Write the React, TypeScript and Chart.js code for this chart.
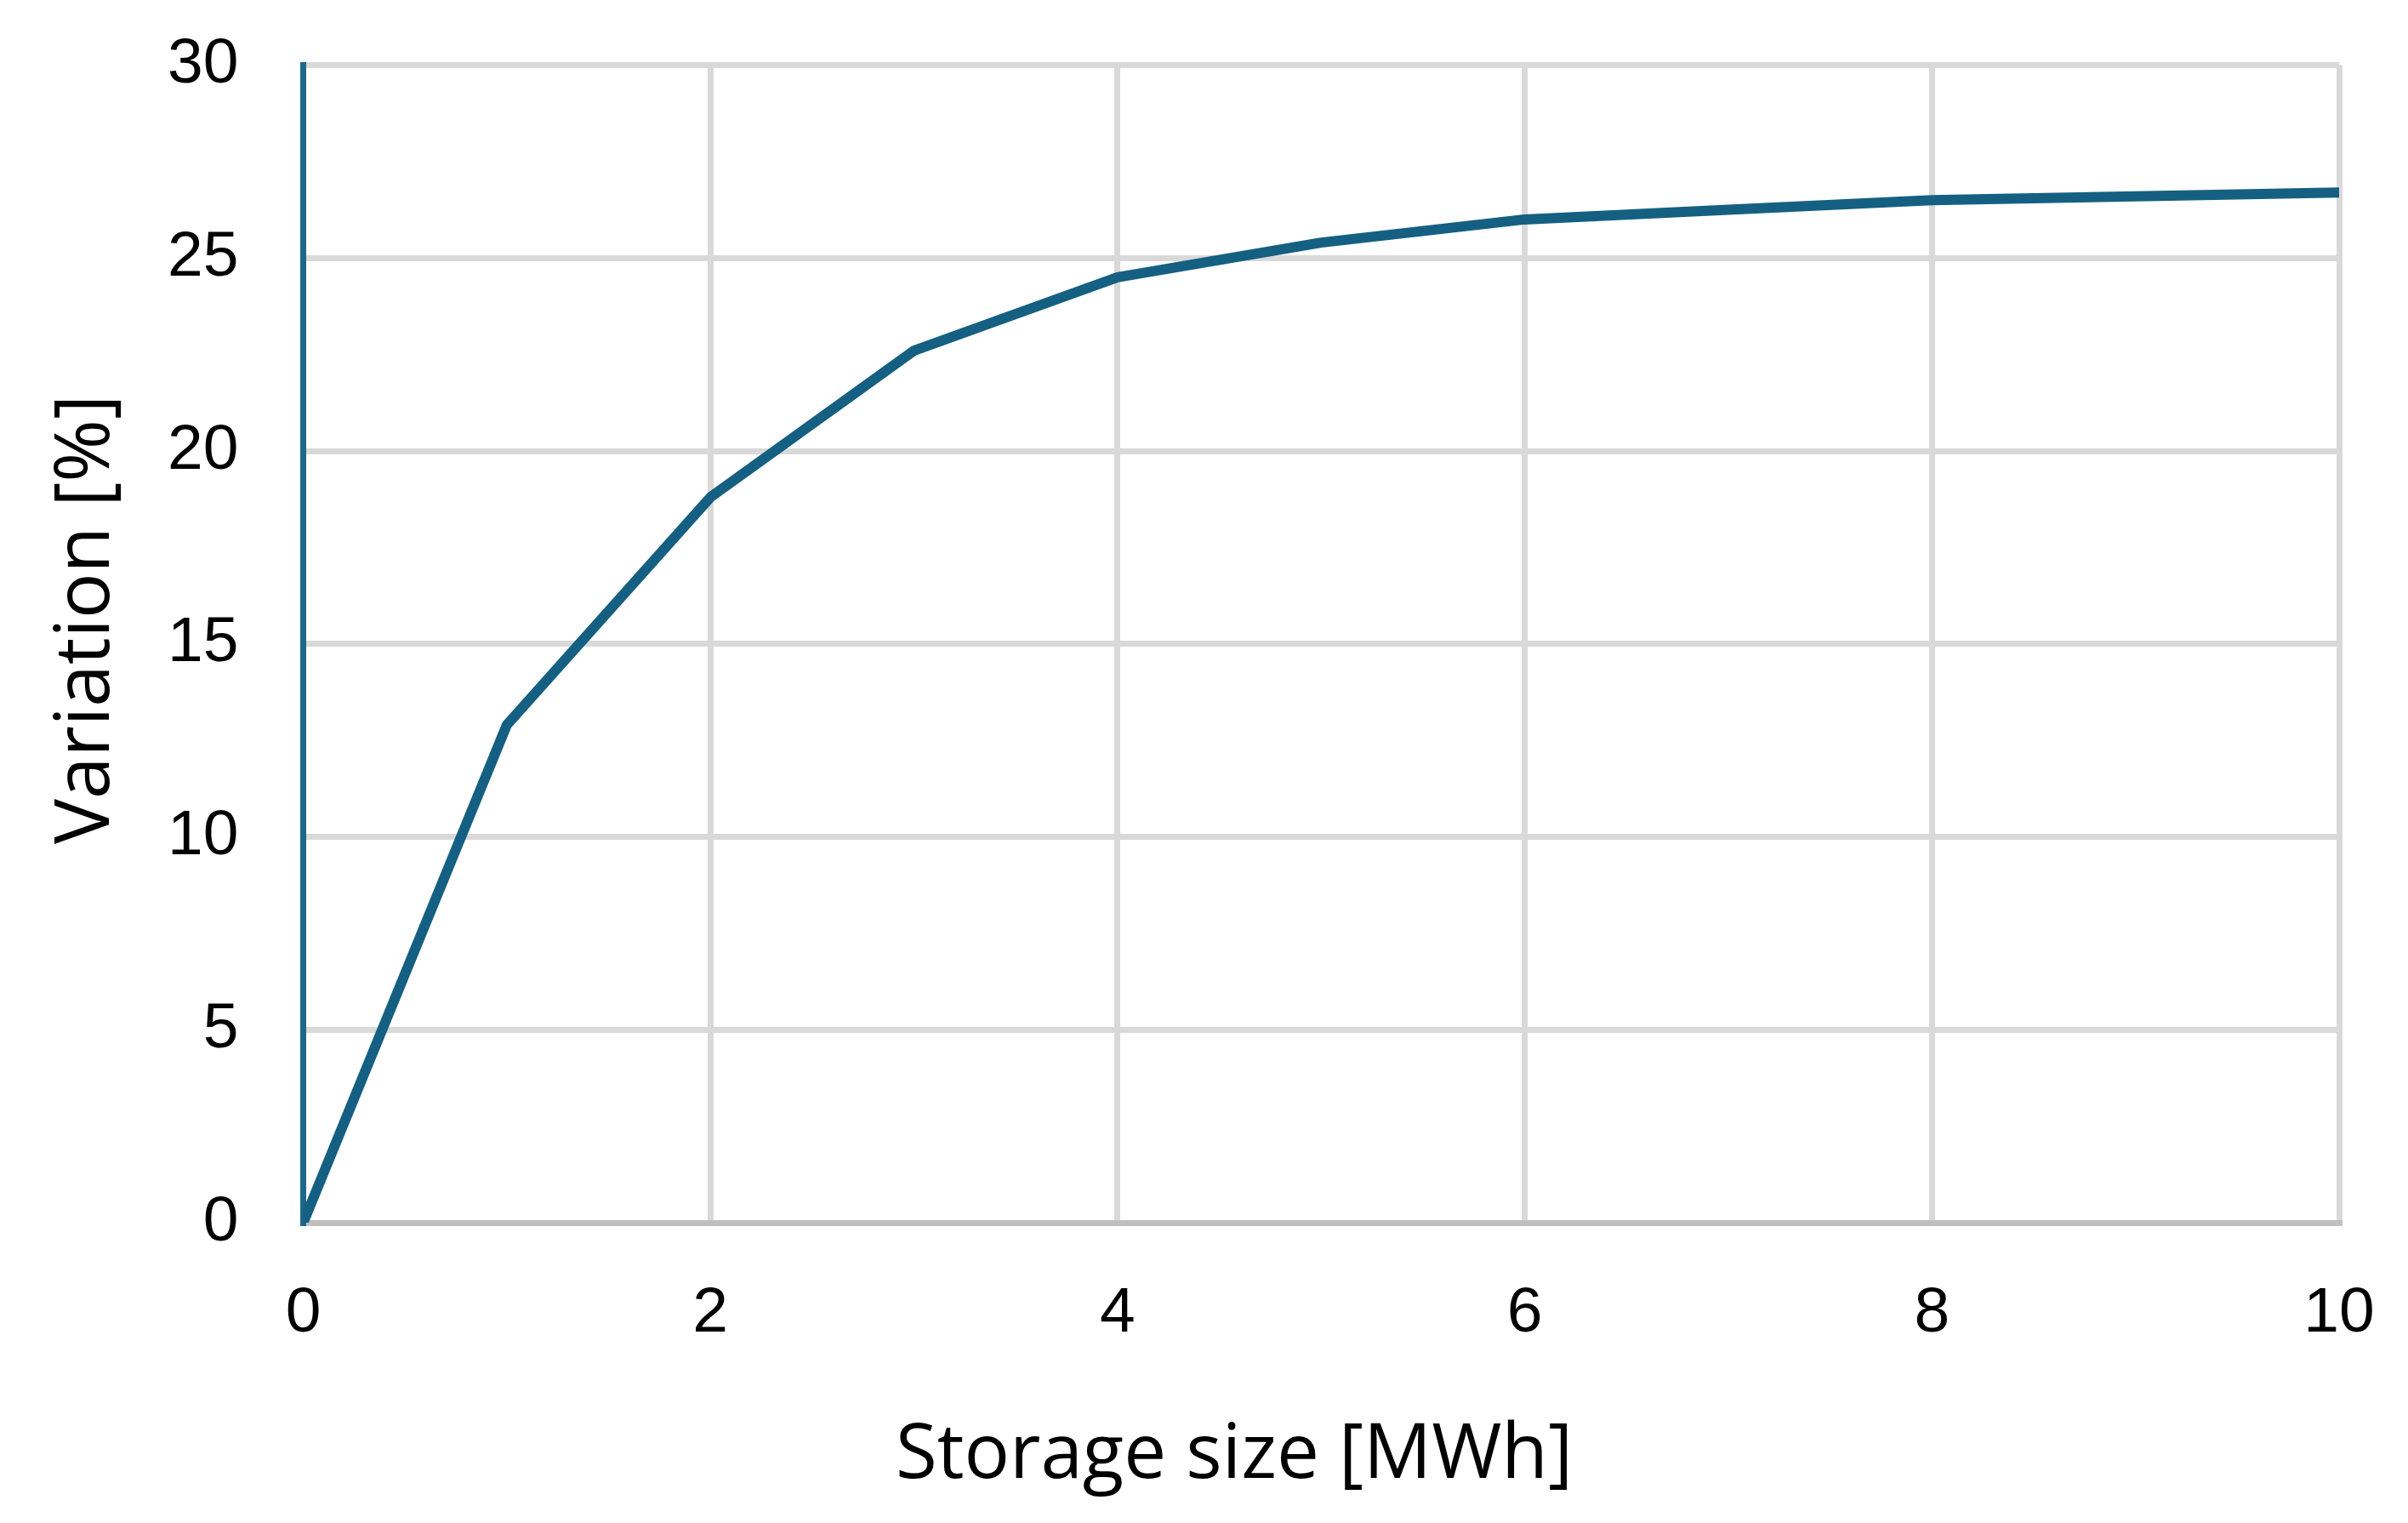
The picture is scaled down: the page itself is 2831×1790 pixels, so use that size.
import React, { useEffect, useRef } from "react";
import { Chart, registerables } from "chart.js";

Chart.register(...registerables);

const storageSizes: number[] = [0, 1, 2, 3, 4, 5, 6, 7, 8, 9, 10];
const variationValues: number[] = [0, 12.9, 18.8, 22.6, 24.5, 25.4, 26.0, 26.25, 26.5, 26.6, 26.7];
const xTitle = "Storage size [MWh]";
const yTitle = "Variation [%]";

const W = 2815;
const H = 1774;

const axisTitlesPlugin = {
  id: "axisTitlesPlugin",
  afterDraw(chart: any) {
    const ctx = chart.ctx as CanvasRenderingContext2D;
    ctx.save();
    ctx.fillStyle = "#000000";
    ctx.font = '89px "Open Sans"';
    ctx.textAlign = "center";
    ctx.textBaseline = "alphabetic";
    ctx.fillText(xTitle, 1443, 1729);
    ctx.translate(120, 720);
    ctx.rotate(-Math.PI / 2);
    ctx.fillText(yTitle, 0, 0);
    ctx.restore();
  },
};

export default function App() {
  const ref = useRef<HTMLCanvasElement | null>(null);

  useEffect(() => {
    if (!ref.current) return;
    const points = storageSizes.map((x, i) => ({ x, y: variationValues[i] }));
    const chart = new Chart(ref.current, {
      type: "line",
      data: {
        datasets: [
          {
            data: points,
            borderColor: "#156082",
            borderWidth: 12,
            borderCapStyle: "round",
            borderJoinStyle: "round",
            pointRadius: 0,
            pointHoverRadius: 0,
            tension: 0,
            fill: false,
          },
        ],
      },
      options: {
        responsive: false,
        animation: false,
        events: [],
        layout: { padding: { top: 68.5, right: 73, left: 0, bottom: 0 } },
        plugins: {
          legend: { display: false },
          tooltip: { enabled: false },
          title: { display: false },
        },
        scales: {
          x: {
            type: "linear",
            min: 0,
            max: 10,
            afterFit: (scale: any) => {
              scale.height = 345;
              scale.paddingLeft = 0;
              scale.paddingRight = 0;
            },
            ticks: {
              stepSize: 2,
              padding: 62,
              color: "#000000",
              font: { family: '"Liberation Sans", Arial, sans-serif', size: 75 },
              maxRotation: 0,
            },
            grid: { color: "#d9d9d9", lineWidth: 7, drawTicks: false },
            border: { display: true, color: "#bfbfbf", width: 7 },
          },
          y: {
            type: "linear",
            min: 0,
            max: 30,
            afterFit: (scale: any) => {
              scale.width = 348.5;
              scale.paddingTop = 0;
              scale.paddingBottom = 0;
            },
            ticks: {
              stepSize: 5,
              padding: 76,
              color: "#000000",
              font: { family: '"Liberation Sans", Arial, sans-serif', size: 75 },
            },
            grid: {
              color: (c: any) => (c.tick && c.tick.value === 0 ? "#bfbfbf" : "#d9d9d9"),
              lineWidth: 7,
              drawTicks: false,
            },
            border: { display: true, color: "#1f6789", width: 7 },
          },
        },
      },
      plugins: [axisTitlesPlugin],
    });
    return () => chart.destroy();
  }, []);

  return (
    <div style={{ width: W, height: H }}>
      <canvas ref={ref} width={W} height={H} style={{ display: "block", width: W, height: H }} />
    </div>
  );
}
